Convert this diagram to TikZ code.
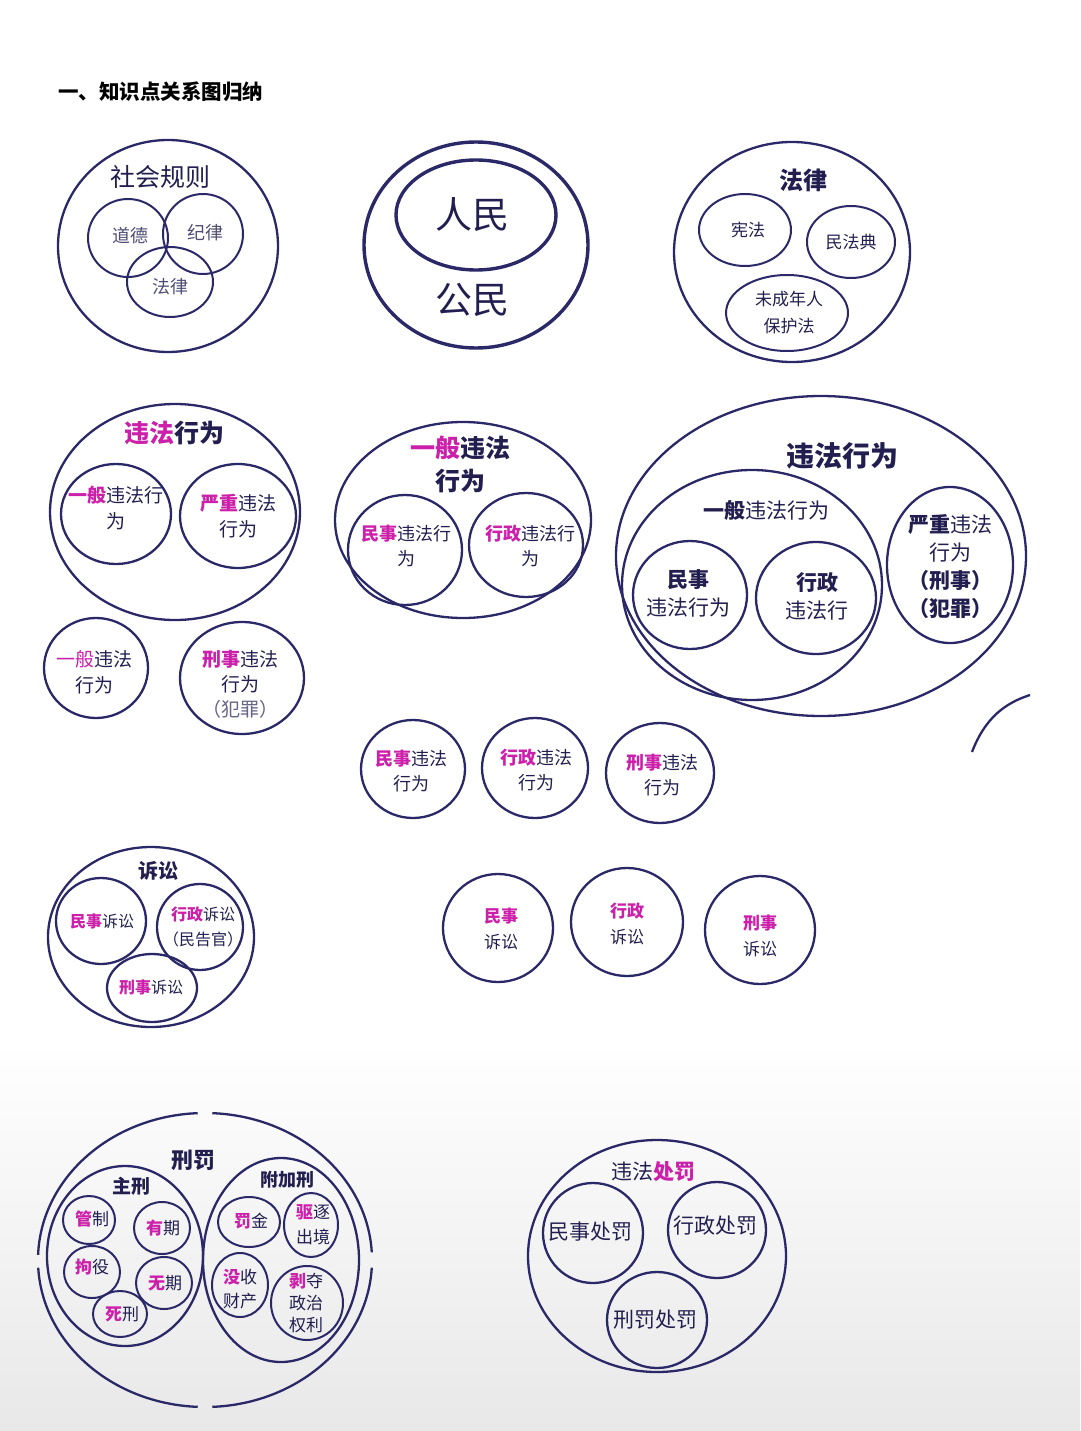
\documentclass[tikz,border=0pt]{standalone}
\usepackage{fontspec}
\setmainfont{Noto Sans CJK SC}
\usetikzlibrary{shapes.geometric}
\definecolor{ln}{HTML}{2B2868}
\definecolor{tx}{HTML}{221F50}
\definecolor{mg}{HTML}{CC1FAA}
\newcommand\mgb[1]{{\color{mg}\bfseries #1}}
\begin{document}
\begin{tikzpicture}[x=1pt,y=-1pt,
  ring/.style={draw=ln, line width=2.3pt, ellipse, inner sep=0pt},
  thick ring/.style={ring, line width=3.4pt},
  lbl/.style={text=tx, align=center, inner sep=0pt, font=\fontsize{18}{25}\selectfont},
  big/.style={lbl, font=\bfseries\fontsize{24}{30}\selectfont},
  mid/.style={lbl, font=\fontsize{21}{28}\selectfont},
  sm/.style={lbl, font=\fontsize{16}{25}\selectfont},
  outer arc/.style={draw=ln, line width=2.3pt}]
\useasboundingbox (0,0) rectangle (1080,1431);
\fill[white] (0,0) rectangle (1080,1431);
\shade[top color=white, bottom color=black!9] (0,1040) rectangle (1080,1431);

% title
\node[anchor=west, text=black, inner sep=0pt, font=\bfseries\fontsize{20.5}{24}\selectfont] (title) at (58,92) {一、知识点关系图归纳};

% social rules
\node[ring, minimum width=220pt, minimum height=212pt] (sr) at (168,246) {};
\node[lbl, font=\fontsize{25}{30}\selectfont] (srt) at (160,177) {社会规则};
\node[ring, line width=2pt, minimum width=80pt, minimum height=78pt] (dd) at (128,238) {};
\node[ring, line width=2pt, minimum width=80pt, minimum height=80pt] (jl) at (203,234) {};
\node[ring, line width=2pt, minimum width=86pt, minimum height=70pt] (fl) at (170,282) {};
\node[lbl, text=tx!80] (ddt) at (130,236) {道德};
\node[lbl, text=tx!80] (jlt) at (205,233) {纪律};
\node[lbl, text=tx!80] (flt) at (170,287) {法律};

% people / citizens
\node[thick ring, minimum width=224pt, minimum height=206pt] (gm) at (476,245) {};
\node[thick ring, minimum width=160pt, minimum height=110pt] (rm) at (476,215) {};
\node[lbl, font=\fontsize{37}{40}\selectfont] (rmt) at (472,215) {人民};
\node[lbl, font=\fontsize{37}{40}\selectfont] (gmt) at (472,300) {公民};

% law
\node[ring, minimum width=236pt, minimum height=220pt] (law) at (792,252) {};
\node[big] (lawt) at (803,180) {法律};
\node[ring, line width=2pt, minimum width=92pt, minimum height=72pt] (xf) at (745,230) {};
\node[lbl, font=\fontsize{17}{24}\selectfont] (xft) at (748,230) {宪法};
\node[ring, line width=2pt, minimum width=88pt, minimum height=72pt] (mfd) at (851,242) {};
\node[lbl, font=\fontsize{17}{24}\selectfont] (mfdt) at (851,242) {民法典};
\node[ring, line width=2pt, minimum width=122pt, minimum height=76pt] (wcn) at (787,313) {};
\node[lbl, font=\fontsize{17}{27}\selectfont] (wcnt) at (789,313) {未成年人\\保护法};

% illegal acts (left)
\node[ring, minimum width=250pt, minimum height=216pt] (wf1) at (175,512) {};
\node[big, font=\bfseries\fontsize{25}{30}\selectfont] (wf1t) at (174,433) {{\color{mg}违法}行为};
\node[ring, minimum width=110pt, minimum height=100pt] (yb1) at (116,514) {};
\node[lbl, font=\fontsize{19}{26}\selectfont] (yb1t) at (116,508) {\mgb{一般}违法行\\为};
\node[ring, minimum width=116pt, minimum height=104pt] (yz1) at (238,516) {};
\node[lbl, font=\fontsize{19}{26}\selectfont] (yz1t) at (238,516) {\mgb{严重}违法\\行为};

\node[ring, minimum width=104pt, minimum height=100pt] (yb2) at (96,668) {};
\node[lbl, font=\fontsize{19}{26}\selectfont] (yb2t) at (94,672) {{\color{mg}一般}违法\\行为};
\node[ring, minimum width=124pt, minimum height=112pt] (xs1) at (242,678) {};
\node[lbl, font=\fontsize{19}{25}\selectfont] (xs1t) at (240,684) {\mgb{刑事}违法\\行为\\{\color{tx!70}（犯罪）}};

% general illegal (middle)
\node[ring, minimum width=256pt, minimum height=196pt] (yb3) at (463,520) {};
\node[big, font=\bfseries\fontsize{25}{33}\selectfont] (yb3t) at (460,464) {{\color{mg}一般}违法\\行为};
\node[ring, minimum width=114pt, minimum height=110pt] (ms1) at (405,550) {};
\node[lbl] (ms1t) at (406,546) {\mgb{民事}违法行\\为};
\node[ring, minimum width=114pt, minimum height=104pt] (xz1) at (526,545) {};
\node[lbl] (xz1t) at (530,546) {\mgb{行政}违法行\\为};

% illegal acts (big right)
\node[ring, minimum width=410pt, minimum height=320pt] (wf2) at (821,556) {};
\node[big, font=\bfseries\fontsize{28}{32}\selectfont] (wf2t) at (842,456) {违法行为};
\node[ring, minimum width=260pt, minimum height=230pt] (yb4) at (752,585) {};
\node[mid] (yb4t) at (766,510) {\textbf{一般}违法行为};
\node[ring, minimum width=114pt, minimum height=108pt] (ms2) at (690,595) {};
\node[mid] (ms2t) at (688,593) {\textbf{民事}\\违法行为};
\node[ring, minimum width=120pt, minimum height=112pt] (xz2) at (816,598) {};
\node[mid] (xz2t) at (817,596) {\textbf{行政}\\违法行};
\node[ring, minimum width=126pt, minimum height=156pt] (yz2) at (950,565) {};
\node[mid, font=\fontsize{21}{28}\selectfont] (yz2t) at (950,567) {\textbf{严重}违法\\行为\\\textbf{（刑事）}\\\textbf{（犯罪）}};
\coordinate (arcA) at (972,752);
\coordinate (arcB) at (1030,695);
\draw[outer arc] (arcA) .. controls (985,718) and (1005,703) .. (arcB);

% row 3
\node[ring, minimum width=104pt, minimum height=98pt] (ms3) at (413,769) {};
\node[lbl] (ms3t) at (411,771) {\mgb{民事}违法\\行为};
\node[ring, minimum width=106pt, minimum height=100pt] (xz3) at (535,768) {};
\node[lbl] (xz3t) at (536,770) {\mgb{行政}违法\\行为};
\node[ring, minimum width=108pt, minimum height=100pt] (xs3) at (660,773) {};
\node[lbl] (xs3t) at (662,775) {\mgb{刑事}违法\\行为};

% litigation
\node[ring, minimum width=206pt, minimum height=180pt] (ss) at (151,937) {};
\node[lbl, font=\bfseries\fontsize{20}{24}\selectfont] (sst) at (158,871) {诉讼};
\node[ring, minimum width=90pt, minimum height=86pt] (ms4) at (101,921) {};
\node[sm] (ms4t) at (102,921) {\mgb{民事}诉讼};
\node[ring, minimum width=86pt, minimum height=86pt] (xz4) at (200,927) {};
\node[sm] (xz4t) at (203,927) {\mgb{行政}诉讼\\（民告官）};
\node[ring, minimum width=90pt, minimum height=68pt] (xs4) at (152,988) {};
\node[sm] (xs4t) at (151,987) {\mgb{刑事}诉讼};

\node[ring, minimum width=110pt, minimum height=108pt] (ms5) at (498,928) {};
\node[lbl, font=\fontsize{17}{26}\selectfont] (ms5t) at (501,929) {\mgb{民事}\\诉讼};
\node[ring, minimum width=112pt, minimum height=108pt] (xz5) at (627,922) {};
\node[lbl, font=\fontsize{17}{26}\selectfont] (xz5t) at (627,924) {\mgb{行政}\\诉讼};
\node[ring, minimum width=110pt, minimum height=108pt] (xs5) at (760,930) {};
\node[lbl, font=\fontsize{17}{26}\selectfont] (xs5t) at (760,936) {\mgb{刑事}\\诉讼};

% penalties
\coordinate (xf0) at (205,1260);
\foreach \a/\b in {3/87.5, 92.5/177, 182/267.5, 272.5/357}
  \draw[outer arc] (xf0) ++(\a:167 and 147) arc[start angle=\a, end angle=\b, x radius=167, y radius=147];
\node[lbl, font=\bfseries\fontsize{22}{26}\selectfont] (xft0) at (193,1160) {刑罚};
\node[ring, minimum width=156pt, minimum height=180pt] (zx) at (125,1256) {};
\node[lbl, font=\bfseries\fontsize{19}{24}\selectfont] (zxt) at (131,1186) {主刑};
\node[ring, line width=2pt, minimum width=52pt, minimum height=48pt] (gz) at (89,1220) {};
\node[lbl, font=\fontsize{17}{22}\selectfont] (gzt) at (92,1219) {\mgb{管}制};
\node[ring, line width=2pt, minimum width=56pt, minimum height=52pt] (yq) at (162,1228) {};
\node[lbl, font=\fontsize{17}{22}\selectfont] (yqt) at (163,1228) {\mgb{有}期};
\node[ring, line width=2pt, minimum width=56pt, minimum height=52pt] (jy) at (92,1272) {};
\node[lbl, font=\fontsize{17}{22}\selectfont] (jyt) at (92,1267) {\mgb{拘}役};
\node[ring, line width=2pt, minimum width=56pt, minimum height=52pt] (wq) at (164,1283) {};
\node[lbl, font=\fontsize{17}{22}\selectfont] (wqt) at (165,1283) {\mgb{无}期};
\node[ring, line width=2pt, minimum width=54pt, minimum height=46pt] (sx) at (120,1314) {};
\node[lbl, font=\fontsize{17}{22}\selectfont] (sxt) at (122,1314) {\mgb{死}刑};
\node[ring, minimum width=156pt, minimum height=204pt] (fjx) at (281,1260) {};
\node[lbl, font=\bfseries\fontsize{18}{22}\selectfont] (fjxt) at (287,1180) {附加刑};
\node[ring, line width=2pt, minimum width=62pt, minimum height=50pt] (fj) at (249,1222) {};
\node[lbl, font=\fontsize{17}{22}\selectfont] (fjt) at (251,1221) {\mgb{罚}金};
\node[ring, line width=2pt, minimum width=54pt, minimum height=64pt] (qz) at (311,1225) {};
\node[lbl, font=\fontsize{17}{25}\selectfont] (qzt) at (313,1225) {\mgb{驱}逐\\出境};
\node[ring, line width=2pt, minimum width=56pt, minimum height=64pt] (ms) at (240,1285) {};
\node[lbl, font=\fontsize{17}{24}\selectfont] (mst) at (240,1289) {\mgb{没}收\\财产};
\node[ring, line width=2pt, minimum width=72pt, minimum height=74pt] (bd) at (307,1303) {};
\node[lbl, font=\fontsize{17}{22}\selectfont] (bdt) at (306,1303) {\mgb{剥}夺\\政治\\权利};

% illegal punishment
\node[ring, minimum width=258pt, minimum height=232pt] (cf) at (657,1256) {};
\node[mid] (cft) at (653,1172) {违法\mgb{处罚}};
\node[ring, minimum width=100pt, minimum height=100pt] (mscf) at (593,1233) {};
\node[mid] (mscft) at (590,1232) {民事处罚};
\node[ring, minimum width=98pt, minimum height=96pt] (xzcf) at (717,1230) {};
\node[mid] (xzcft) at (715,1226) {行政处罚};
\node[ring, minimum width=100pt, minimum height=96pt] (xfcf) at (657,1320) {};
\node[mid] (xfcft) at (655,1320) {刑罚处罚};
\end{tikzpicture}
\end{document}
